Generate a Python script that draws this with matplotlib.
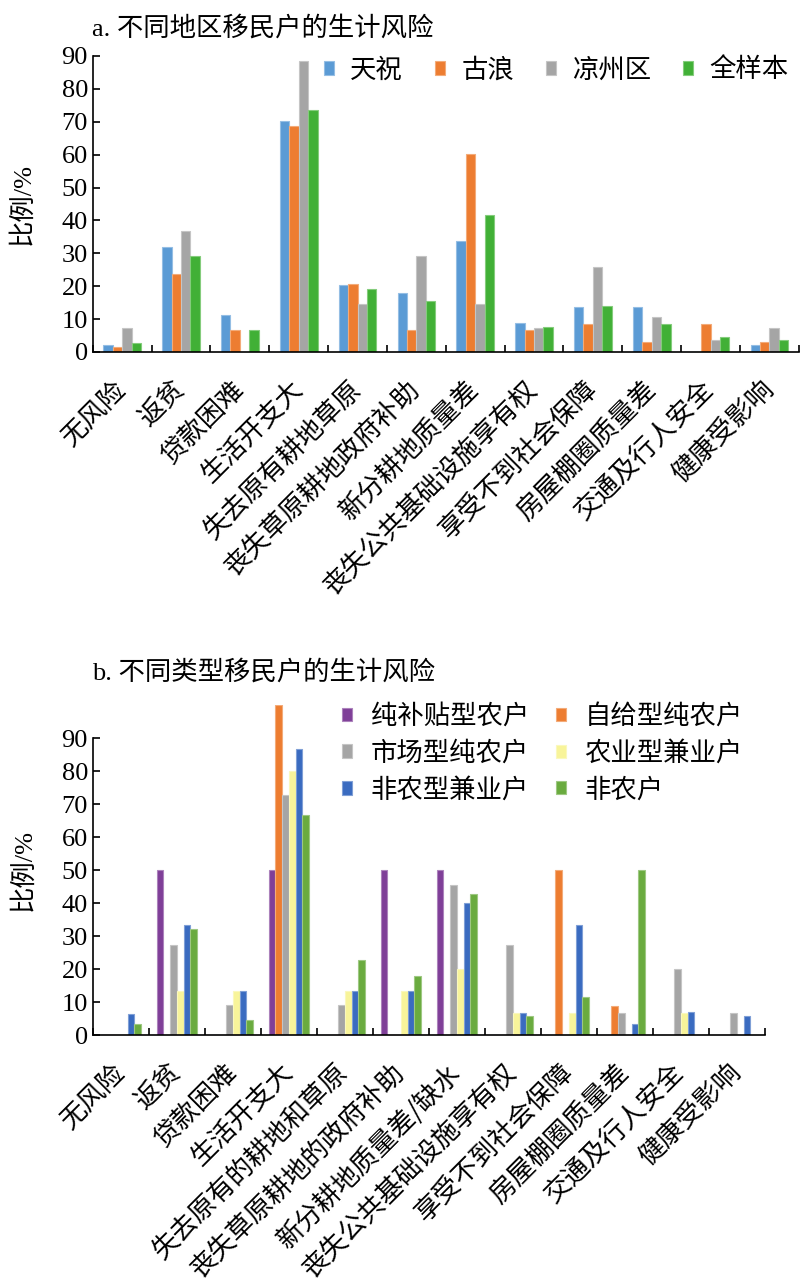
import numpy as np
import matplotlib
matplotlib.use("Agg")
from matplotlib import pyplot as plt
from matplotlib.ticker import MultipleLocator, FixedLocator

plt.rcParams['font.family'] = ['Liberation Serif', 'Noto Sans CJK SC', 'DejaVu Sans']

# ---- panel a: by region ----
cats_a = ['无风险', '返贫', '贷款困难', '生活开支大', '失去原有耕地草原', '丧失草原耕地政府补助',
          '新分耕地质量差', '丧失公共基础设施享有权', '享受不到社会保障', '房屋棚圈质量差',
          '交通及行人安全', '健康受影响']
tianzhu = [2.0, 31.8, 11.1, 70.2, 20.3, 17.8, 33.7, 8.7, 13.6, 13.6, 0.0, 2.0]
gulang = [1.6, 23.8, 6.8, 68.6, 20.6, 6.8, 60.3, 6.8, 8.4, 3.1, 8.4, 3.1]
liangzhou = [7.2, 36.9, 0.0, 88.6, 14.7, 29.3, 14.7, 7.2, 25.7, 10.7, 3.5, 7.2]
quanyang = [2.7, 29.3, 6.8, 73.5, 19.0, 15.5, 41.6, 7.6, 14.0, 8.4, 4.4, 3.5]
series_a = ['天祝', '古浪', '凉州区', '全样本']
colors_a = ['#5B9BD5', '#ED7D31', '#A5A5A5', '#41B036']

# ---- panel b: by household type ----
cats_b = ['无风险', '返贫', '贷款困难', '生活开支大', '失去原有的耕地和草原', '丧失草原耕地的政府补助',
          '新分耕地质量差/缺水', '丧失公共基础设施享有权', '享受不到社会保障', '房屋棚圈质量差',
          '交通及行人安全', '健康受影响']
chun_butie = [0, 50, 0, 50, 0, 50, 50, 0, 0, 0, 0, 0]
zigei = [0, 0, 0, 100, 0, 0, 0, 0, 50, 8.7, 0, 0]
shichang = [0, 27.3, 9.1, 72.7, 9.1, 0, 45.5, 27.3, 0, 6.7, 20.0, 6.7]
nongye_jianye = [0, 13.3, 13.3, 80.0, 13.3, 13.3, 20.0, 6.7, 6.7, 0, 6.7, 0]
feinong_jianye = [6.5, 33.3, 13.3, 86.7, 13.3, 13.3, 40.0, 6.7, 33.3, 3.3, 7.0, 5.7]
feinong = [3.2, 32.1, 4.5, 66.7, 22.6, 17.9, 42.7, 5.8, 11.4, 50.0, 0, 0]
series_b = ['纯补贴型农户', '自给型纯农户', '市场型纯农户', '农业型兼业户', '非农型兼业户', '非农户']
colors_b = ['#7F3F98', '#ED7D31', '#A5A5A5', '#F8F49A', '#3A6BC0', '#6AAB3F']

FS = 19


def lighter(c, f=0.35):
    rgb = np.array(matplotlib.colors.to_rgb(c))
    return tuple(rgb + (1 - rgb) * f)


def grouped_bars(ax, cats, data, names, colors, width):
    x = np.arange(len(cats))
    n = len(data)
    for i, (vals, name, col) in enumerate(zip(data, names, colors)):
        ax.bar(x + (i - (n - 1) / 2) * width, vals, width, color=col, label=name,
               edgecolor=lighter(col), linewidth=0.8)
    ax.set_xlim(-0.5, len(cats) - 0.5)
    ax.set_xticks(x)
    ax.set_xticklabels(cats, rotation=45, ha='right', va='center', rotation_mode='anchor',
                       fontsize=FS, family=['Noto Sans CJK SC'])
    ax.xaxis.set_minor_locator(FixedLocator(np.arange(-0.5, len(cats), 1.0)))
    ax.tick_params(axis='x', which='major', length=0, pad=24)
    ax.tick_params(axis='x', which='minor', direction='in', length=5, width=1.2)
    ax.tick_params(axis='y', direction='in', length=5, width=1.2, labelsize=FS)
    ax.yaxis.set_major_locator(MultipleLocator(10))
    for s in ['top', 'right']:
        ax.spines[s].set_visible(False)
    for s in ['left', 'bottom']:
        ax.spines[s].set_linewidth(1.2)
    ax.set_ylabel('比例/%', fontsize=FS)


fig = plt.figure(figsize=(8, 12.84), dpi=100)

ax1 = fig.add_axes([0.116, 0.7259, 0.8825, 0.2305])
grouped_bars(ax1, cats_a, [tianzhu, gulang, liangzhou, quanyang], series_a, colors_a, 0.16)
ax1.set_ylim(0, 90)
ax1.yaxis.set_label_coords(-0.082, 0.5)
ax1.legend(loc='center right', bbox_to_anchor=(1.0, 0.953), ncol=4, frameon=False,
           fontsize=FS, handlelength=0.4, handleheight=0.4, handletextpad=0.6,
           columnspacing=1.2, borderaxespad=0)
fig.text(0.115, 0.988, 'a. 不同地区移民户的生计风险', fontsize=FS, va='top', ha='left')

ax2 = fig.add_axes([0.116, 0.1939, 0.84, 0.257])
grouped_bars(ax2, cats_b, [chun_butie, zigei, shichang, nongye_jianye, feinong_jianye, feinong],
             series_b, colors_b, 0.12)
ax2.set_ylim(0, 100)
ax2.set_yticks(np.arange(0, 91, 10))
ax2.spines['left'].set_bounds(0, 90)
ax2.yaxis.set_label_coords(-0.086, 0.5)
h, l = ax2.get_legend_handles_labels()
order = [0, 2, 4, 1, 3, 5]
ax2.legend([h[i] for i in order], [l[i] for i in order], loc='upper left',
           bbox_to_anchor=(0.355, 1.035), ncol=2, frameon=False, fontsize=FS,
           handlelength=0.4, handleheight=0.4, handletextpad=0.7, columnspacing=1.0,
           labelspacing=0.45, borderaxespad=0)
fig.text(0.115, 0.486, 'b. 不同类型移民户的生计风险', fontsize=FS, va='top', ha='left')

fig.savefig('out.png', dpi=100)
